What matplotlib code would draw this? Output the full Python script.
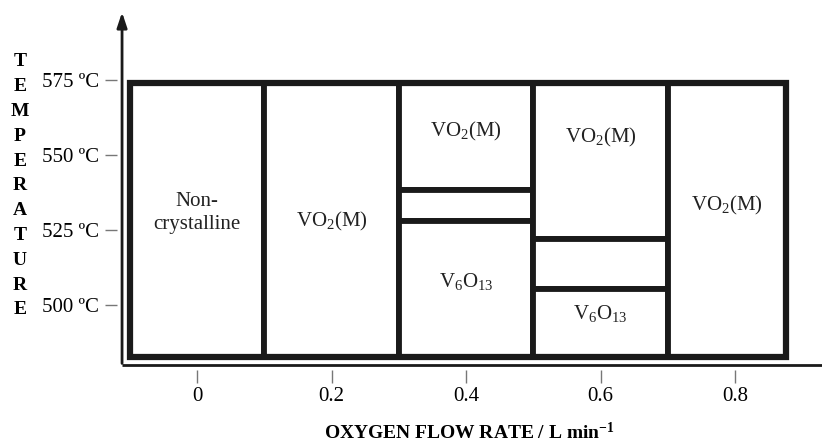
import matplotlib
matplotlib.use("Agg")
import matplotlib.pyplot as plt
from matplotlib.patches import Rectangle

plt.rcParams['font.family'] = 'Liberation Serif'
plt.rcParams['mathtext.fontset'] = 'custom'
plt.rcParams['mathtext.rm'] = 'Liberation Serif'
plt.rcParams['mathtext.it'] = 'Liberation Serif:italic'
plt.rcParams['mathtext.bf'] = 'Liberation Serif:bold'

# phase regions: flow rate range (L/min), temperature range (C), phase
x_lo = [-0.1, 0.1, 0.3, 0.3, 0.3, 0.5, 0.5, 0.5, 0.7]
x_hi = [0.1, 0.3, 0.5, 0.5, 0.5, 0.7, 0.7, 0.7, 0.875]
t_lo = [482.5, 482.5, 538.3, 528.0, 482.5, 522.0, 505.3, 482.5, 482.5]
t_hi = [574.0, 574.0, 574.0, 538.3, 528.0, 574.0, 522.0, 505.3, 574.0]
phase = ["Non-\ncrystalline", r"VO$_2$(M)", r"VO$_2$(M)", "", r"V$_6$O$_{13}$",
         r"VO$_2$(M)", "", r"V$_6$O$_{13}$", r"VO$_2$(M)"]
label_t = [530.7, 527.7, 557.7, 0, 507.7, 556.0, 0, 497.3, 533.3]

flow_ticks = [0, 0.2, 0.4, 0.6, 0.8]
flow_labels = ["0", "0.2", "0.4", "0.6", "0.8"]
temp_ticks = [500, 525, 550, 575]
temp_labels = ["500 ºC", "525 ºC", "550 ºC", "575 ºC"]

fig = plt.figure(figsize=(8.22, 4.44), dpi=100)
ax = fig.add_axes([117 / 822, 74 / 444, 705 / 822, 360 / 444])
ax.set_xlim(-0.119, 0.929)
ax.set_ylim(478.33, 598.33)

for i in range(len(x_lo)):
    ax.add_patch(Rectangle((x_lo[i], t_lo[i]), x_hi[i] - x_lo[i], t_hi[i] - t_lo[i],
                           facecolor="white", edgecolor="#1a1a1a", lw=4.2))
    if phase[i]:
        ax.text((x_lo[i] + x_hi[i]) / 2, label_t[i], phase[i], ha="center", va="center",
                fontsize=15, color="#222222", linespacing=1.25)

# outer frame
ax.add_patch(Rectangle((min(x_lo), min(t_lo)), max(x_hi) - min(x_lo), max(t_hi) - min(t_lo),
                       facecolor="none", edgecolor="#1a1a1a", lw=4.5))

# axis lines with a small gap to the ticks
for s in ax.spines.values():
    s.set_visible(False)
x0 = -0.1115
ax.plot([x0, 0.929], [480, 480], color="#1a1a1a", lw=2, clip_on=False, solid_capstyle="butt")
ax.annotate("", xy=(x0, 598.5), xytext=(x0, 479.6), xycoords="data",
            arrowprops=dict(arrowstyle="-|>,head_length=0.9,head_width=0.3", color="#1a1a1a", lw=2),
            annotation_clip=False)

ax.set_xticks(flow_ticks)
ax.set_xticklabels(flow_labels)
ax.set_yticks(temp_ticks)
ax.set_yticklabels(temp_labels)
ax.tick_params(axis="both", length=9, width=1, color="#777777", labelsize=15, pad=4)
ax.tick_params(axis="x", pad=3)

ax.set_xlabel(r"OXYGEN FLOW RATE / L min$^{\mathbf{-1}}$", fontsize=14, fontweight="bold",
              labelpad=12)

word = "TEMPERATURE"
for i, ch in enumerate(word):
    fig.text(20 / 822, 1 - (62 + i * 24.8) / 444, ch, ha="center", va="center",
             fontsize=14, fontweight="bold")

fig.savefig("out.png", dpi=100)
